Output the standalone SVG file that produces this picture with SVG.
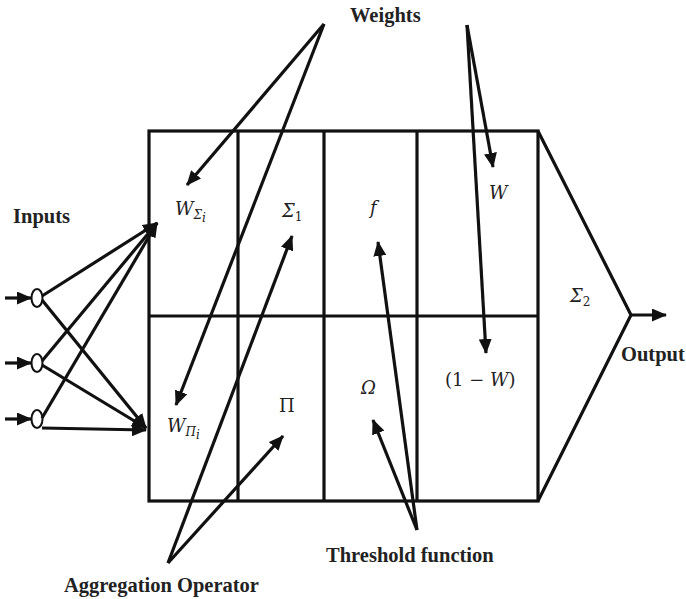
<svg xmlns="http://www.w3.org/2000/svg" width="686" height="599" viewBox="0 0 686 599">
<defs>
<marker id="ah" markerUnits="userSpaceOnUse" markerWidth="15" markerHeight="13" refX="14" refY="6.5" orient="auto">
<path d="M0,0 L15,6.5 L0,13 z" fill="#111"/>
</marker>
</defs>
<style>
.b{fill:none;stroke:#111;stroke-width:3.2;stroke-linejoin:miter}
.c{fill:none;stroke:#111;stroke-width:3.2;marker-end:url(#ah)}
.lab{font-family:'Liberation Serif','Times New Roman','DejaVu Serif',serif;font-weight:700;font-size:20.5px;fill:#222}
.m{font-family:'DejaVu Serif','Liberation Serif',serif;font-style:italic;font-size:18px;fill:#222}
.mu{font-family:'DejaVu Serif','Liberation Serif',serif;font-style:normal;font-size:18px;fill:#222}
.s{font-size:12px}
.e{fill:#fff;stroke:#111;stroke-width:2}
</style>
<rect width="686" height="599" fill="#fff"/>
<g id="box">
<rect class="b" x="149" y="131" width="389" height="370"/>
<line class="b" x1="149" y1="316" x2="538" y2="316"/>
<line class="b" x1="238" y1="131" x2="238" y2="501"/>
<line class="b" x1="324" y1="131" x2="324" y2="501"/>
<line class="b" x1="417" y1="131" x2="417" y2="501"/>
<polyline class="b" points="538,131 631,315 538,501"/>
</g>
<g id="inputs">
<ellipse class="e" cx="37" cy="298" rx="5.5" ry="9"/>
<ellipse class="e" cx="37" cy="363" rx="5.5" ry="9"/>
<ellipse class="e" cx="37" cy="419" rx="5.5" ry="9"/>
</g>
<g id="connectors">
<line class="c" x1="5" y1="298" x2="31" y2="298"/>
<line class="c" x1="5" y1="363" x2="31" y2="363"/>
<line class="c" x1="5" y1="419" x2="31" y2="419"/>
<line class="c" x1="42" y1="296" x2="157" y2="223"/>
<line class="c" x1="42" y1="361" x2="157" y2="223"/>
<line class="c" x1="42" y1="418" x2="157" y2="223"/>
<line class="c" x1="42" y1="300" x2="146" y2="428"/>
<line class="c" x1="42" y1="365" x2="146" y2="428"/>
<line class="c" x1="42" y1="428" x2="146" y2="430"/>
<line class="c" x1="631" y1="315" x2="666" y2="315"/>
<line class="c" x1="324" y1="24" x2="187" y2="185"/>
<line class="c" x1="324" y1="24" x2="176" y2="405"/>
<line class="c" x1="467" y1="25" x2="493" y2="167"/>
<line class="c" x1="467" y1="25" x2="486" y2="353"/>
<line class="c" x1="168" y1="563" x2="292" y2="236"/>
<line class="c" x1="168" y1="563" x2="283" y2="436"/>
<line class="c" x1="417" y1="530" x2="378" y2="242"/>
<line class="c" x1="417" y1="530" x2="373" y2="420"/>
</g>
<g id="labels">
<text class="lab" x="13" y="223">Inputs</text>
<text class="lab" x="350" y="22">Weights</text>
<text class="lab" x="621" y="361">Output</text>
<text class="lab" x="326" y="562">Threshold function</text>
<text class="lab" x="64" y="592">Aggregation Operator</text>
</g>
<g id="math">
<text class="m" x="175" y="215">W<tspan class="s" dy="4">Σ</tspan><tspan class="s" dy="3">i</tspan></text>
<text class="m" x="282" y="217">Σ<tspan class="mu s" dy="4">1</tspan></text>
<text class="m" x="370" y="214">f</text>
<text class="m" x="489" y="199">W</text>
<text class="m" x="570" y="302">Σ<tspan class="mu s" dy="4">2</tspan></text>
<text class="mu" x="445" y="386">(1 − <tspan class="m">W</tspan>)</text>
<text class="m" x="361" y="394">Ω</text>
<text class="mu" x="279" y="412">Π</text>
<text class="m" x="167" y="432">W<tspan class="s" dy="4">Π</tspan><tspan class="s" dy="3">i</tspan></text>
</g>
</svg>
